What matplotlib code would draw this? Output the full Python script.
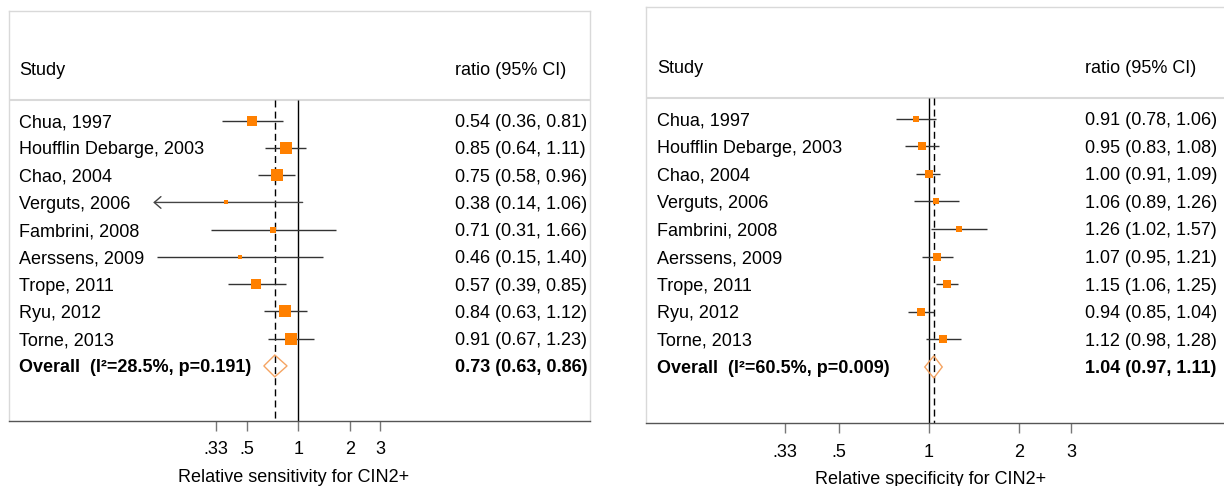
import numpy as np
import matplotlib
matplotlib.use('Agg')
import matplotlib.pyplot as plt
from matplotlib.patches import Polygon
from matplotlib.ticker import NullLocator

plt.rcParams['font.family'] = ['Liberation Sans', 'DejaVu Sans']

STUDIES = ['Chua, 1997', 'Houfflin Debarge, 2003', 'Chao, 2004', 'Verguts, 2006',
           'Fambrini, 2008', 'Aerssens, 2009', 'Trope, 2011', 'Ryu, 2012', 'Torne, 2013']

# relative sensitivity
SENS_RATIO = [0.54, 0.85, 0.75, 0.38, 0.71, 0.46, 0.57, 0.84, 0.91]
SENS_LO = [0.36, 0.64, 0.58, 0.14, 0.31, 0.15, 0.39, 0.63, 0.67]
SENS_HI = [0.81, 1.11, 0.96, 1.06, 1.66, 1.40, 0.85, 1.12, 1.23]
SENS_WEIGHT = [10.6, 16.9, 16.9, 2.6, 4.2, 2.6, 11.0, 16.9, 18.3]
SENS_OVERALL = [0.73, 0.63, 0.86]
SENS_HET = [28.5, 0.191]

# relative specificity
SPEC_RATIO = [0.91, 0.95, 1.00, 1.06, 1.26, 1.07, 1.15, 0.94, 1.12]
SPEC_LO = [0.78, 0.83, 0.91, 0.89, 1.02, 0.95, 1.06, 0.85, 0.98]
SPEC_HI = [1.06, 1.08, 1.09, 1.26, 1.57, 1.21, 1.25, 1.04, 1.28]
SPEC_WEIGHT = [9.3, 13.0, 14.3, 6.2, 6.2, 13.0, 15.8, 11.7, 10.5]
SPEC_OVERALL = [1.04, 0.97, 1.11]
SPEC_HET = [60.5, 0.009]

TICKS = [0.33, 0.5, 1, 2, 3]
TICK_LABELS = ['.33', '.5', '1', '2', '3']

BOX_COLOR = '#FF8000'
DIAMOND_COLOR = '#F5A462'
FRAME_COLOR = '#D9D9D9'
FS = 13

W, H = 1224, 486


def draw_panel(fig, rect, xlim, ylim, ratio, lo, hi, weight, overall, het, xlabel,
               hdr_row, hdr_line_row, col_x, label_xy, max_box, clip_lo=None):
    ax = fig.add_axes(rect)
    ax.set_xscale('log')
    ax.set_xlim(*xlim)
    ax.set_ylim(*ylim)
    tr = ax.get_yaxis_transform()
    tr_text = matplotlib.transforms.blended_transform_factory(ax.transAxes, ax.transData)

    # header
    ax.text(col_x[0], hdr_row, 'Study', transform=tr_text, fontsize=FS, va='center_baseline')
    ax.text(col_x[1], hdr_row, 'ratio (95% CI)', transform=tr_text, fontsize=FS, va='center_baseline')
    ax.plot([0, 1], [hdr_line_row, hdr_line_row], transform=tr, color=FRAME_COLOR, lw=1.5)

    # reference lines
    ax.vlines(1, hdr_line_row, ylim[0], color='black', lw=1)
    ax.vlines(overall[0], hdr_line_row, ylim[0], color='black', lw=1, linestyles=(0, (5, 3)))

    wmax = max(weight)
    for i, name in enumerate(STUDIES):
        ax.text(col_x[0], i, name, transform=tr_text, fontsize=FS, va='center_baseline')
        ax.text(col_x[1], i, '{:.2f} ({:.2f}, {:.2f})'.format(ratio[i], lo[i], hi[i]),
                transform=tr_text, fontsize=FS, va='center_baseline')
        if clip_lo is not None and lo[i] < clip_lo:
            ax.annotate('', xy=(clip_lo, i), xytext=(hi[i], i),
                        arrowprops=dict(arrowstyle='->,head_length=0.4,head_width=0.35',
                                        color='#444444', lw=1, shrinkA=0, shrinkB=0,
                                        mutation_scale=12))
        else:
            ax.hlines(i, lo[i], hi[i], color='#333333', lw=1)
        side = max_box * np.sqrt(weight[i] / wmax) * 0.72
        ax.plot(ratio[i], i, 's', color=BOX_COLOR, markersize=side, markeredgewidth=0, zorder=3)

    # overall
    n = len(STUDIES)
    est, olo, ohi = overall
    dh = 0.4
    ax.add_patch(Polygon([(olo, n), (est, n - dh), (ohi, n), (est, n + dh)], closed=True,
                         fill=False, edgecolor=DIAMOND_COLOR, lw=1, zorder=3))
    ax.text(col_x[0], n, 'Overall  (I\u00b2={:.1f}%, p={:.3f})'.format(het[0], het[1]),
            transform=tr_text, fontsize=FS, fontweight='bold', va='center_baseline')
    ax.text(col_x[1], n, '{:.2f} ({:.2f}, {:.2f})'.format(est, olo, ohi),
            transform=tr_text, fontsize=FS, fontweight='bold', va='center_baseline')

    # frame and axis
    for s in ['left', 'right', 'top']:
        ax.spines[s].set_color(FRAME_COLOR)
        ax.spines[s].set_linewidth(1)
    ax.spines['bottom'].set_color('#555555')
    ax.spines['bottom'].set_linewidth(1)
    ax.set_yticks([])
    ax.set_xticks(TICKS)
    ax.set_xticklabels(TICK_LABELS)
    ax.xaxis.set_minor_locator(NullLocator())
    ax.tick_params(axis='x', length=7.2, width=1, color='#777777', labelsize=FS, pad=7.5)
    ax.set_xlabel(xlabel, fontsize=FS)
    ax.xaxis.set_label_coords(*label_xy)
    return ax


fig = plt.figure(figsize=(W / 100, H / 100), dpi=100)

# left panel: frame x 8.6..590 px, y 11..420.7 px, 1 at x=298.3, 74.6 px per log unit
draw_panel(fig,
           [8.6 / W, 1 - 420.7 / H, (590 - 8.6) / W, (420.7 - 11) / H],
           (np.exp((8.6 - 298.3) / 74.6), np.exp((590 - 298.3) / 74.6)),
           (11.01, -4.026),
           SENS_RATIO, SENS_LO, SENS_HI, SENS_WEIGHT, SENS_OVERALL, SENS_HET,
           'Relative sensitivity for CIN2+',
           -1.93, -0.76, (0.0174, 0.768), (0.4897, -0.1178), 12.5, clip_lo=0.143)

# right panel: frame x 645.9..1240 px, y 7.3..423.3 px, 1 at x=928.7, 129.8 px per log unit
draw_panel(fig,
           [645.9 / W, 1 - 423.3 / H, (1240 - 645.9) / W, (423.3 - 7.3) / H],
           (np.exp((645.9 - 928.7) / 129.8), np.exp((1240 - 928.7) / 129.8)),
           (11.04, -4.03),
           SPEC_RATIO, SPEC_LO, SPEC_HI, SPEC_WEIGHT, SPEC_OVERALL, SPEC_HET,
           'Relative specificity for CIN2+',
           -1.88, -0.74, (0.0183, 0.7386), (0.479, -0.1142), 8.6)

plt.savefig('out.png', dpi=100)
